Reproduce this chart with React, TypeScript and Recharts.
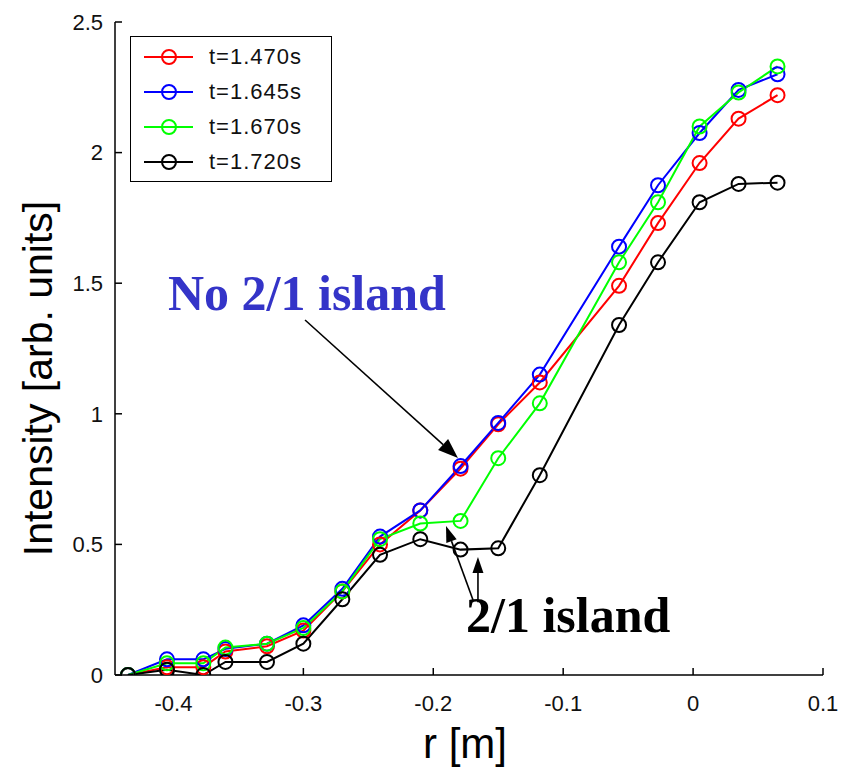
import React from 'react';
import {
  LineChart,
  Line,
  XAxis,
  YAxis,
  Legend,
  ReferenceLine,
  ReferenceDot,
} from 'recharts';

// radial positions of the chords [m]
const radius = [
  -0.435, -0.405, -0.377, -0.36, -0.328, -0.3, -0.27, -0.241, -0.21, -0.179,
  -0.15, -0.118, -0.057, -0.027, 0.005, 0.035, 0.065,
];

const t1470 = [0.0, 0.03, 0.03, 0.09, 0.11, 0.17, 0.32, 0.5, 0.63, 0.79, 0.96, 1.12, 1.49, 1.73, 1.96, 2.13, 2.22];
const t1645 = [0.0, 0.06, 0.06, 0.1, 0.12, 0.19, 0.33, 0.53, 0.63, 0.8, 0.965, 1.15, 1.64, 1.875, 2.075, 2.24, 2.3];
const t1670 = [0.0, 0.045, 0.045, 0.105, 0.12, 0.18, 0.32, 0.52, 0.58, 0.59, 0.83, 1.04, 1.58, 1.81, 2.1, 2.23, 2.33];
const t1720 = [0.0, 0.02, 0.0, 0.05, 0.05, 0.12, 0.29, 0.46, 0.52, 0.48, 0.485, 0.765, 1.34, 1.58, 1.81, 1.88, 1.885];

const seriesNames = ['t=1.470s', 't=1.645s', 't=1.670s', 't=1.720s'];
const seriesColors = ['#ff0000', '#0000ff', '#00ff00', '#000000'];

const xTicks = [-0.4, -0.3, -0.2, -0.1, 0, 0.1];
const yTicks = [0, 0.5, 1, 1.5, 2, 2.5];
const xDomain: [number, number] = [-0.445, 0.1];
const yDomain: [number, number] = [0, 2.5];

const data = radius.map((r, i) => ({
  r,
  s0: t1470[i],
  s1: t1645[i],
  s2: t1670[i],
  s3: t1720[i],
}));

const SANS = '"Liberation Sans", Arial, sans-serif';
const SERIF = '"Liberation Serif", "Times New Roman", serif';

const tickStyle = { fontSize: 22, fill: '#111', fontFamily: SANS };

function arrowShape(headLen: number, headWidth: number) {
  return (p: any) => {
    const { x1, y1, x2, y2 } = p;
    const dx = x2 - x1;
    const dy = y2 - y1;
    const len = Math.hypot(dx, dy) || 1;
    const ux = dx / len;
    const uy = dy / len;
    const bx = x2 - ux * headLen;
    const by = y2 - uy * headLen;
    const px = (-uy * headWidth) / 2;
    const py = (ux * headWidth) / 2;
    return (
      <g>
        <line x1={x1} y1={y1} x2={bx} y2={by} stroke="#000" strokeWidth={1.6} />
        <polygon
          points={`${x2},${y2} ${bx + px},${by + py} ${bx - px},${by - py}`}
          fill="#000"
        />
      </g>
    );
  };
}

function textShape(text: string, color: string) {
  return (p: any) => (
    <text
      x={p.cx}
      y={p.cy}
      fill={color}
      fontFamily={SERIF}
      fontWeight="bold"
      fontSize={50}
    >
      {text}
    </text>
  );
}

const renderLegend = (props: any) => (
  <div
    style={{
      border: '1px solid #000',
      background: '#fff',
      width: 200,
      padding: '2px 0',
    }}
  >
    {(props.payload || []).map((entry: any) => (
      <div
        key={entry.value}
        style={{ display: 'flex', alignItems: 'center', height: 35 }}
      >
        <svg width={64} height={20} style={{ display: 'block' }}>
          <line x1={13} x2={62} y1={10} y2={10} stroke={entry.color} strokeWidth={2} />
          <circle cx={38} cy={10} r={7} fill="none" stroke={entry.color} strokeWidth={2} />
        </svg>
        <span
          style={{
            fontFamily: SANS,
            fontSize: 22,
            letterSpacing: 1,
            marginLeft: 14,
            color: '#111',
            lineHeight: '20px',
          }}
        >
          {entry.value}
        </span>
      </div>
    ))}
  </div>
);

export default function App() {
  return (
    <div style={{ position: 'absolute', left: 0, top: 0 }}>
      <LineChart
        width={853}
        height={769}
        data={data}
        margin={{ top: 22, right: 30, bottom: 44, left: 55 }}
      >
        <XAxis
          dataKey="r"
          type="number"
          domain={xDomain}
          ticks={xTicks}
          allowDataOverflow
          height={50}
          tick={tickStyle}
          tickSize={-7}
          tickMargin={27}
          axisLine={{ stroke: '#000', strokeWidth: 1.5 }}
          tickLine={{ stroke: '#000', strokeWidth: 1.5 }}
          label={(props: any) => {
            const vb = props.viewBox || {};
            return (
              <text
                x={vb.x + vb.width / 2 - 4}
                y={vb.y + 83}
                textAnchor="middle"
                fontFamily={SANS}
                fontSize={42}
                fill="#000"
              >
                r [m]
              </text>
            );
          }}
        />
        <XAxis
          xAxisId="top"
          orientation="top"
          dataKey="r"
          type="number"
          domain={xDomain}
          ticks={xTicks}
          allowDataOverflow
          height={0}
          tickSize={-7}
          tickFormatter={() => ''}
          axisLine={{ stroke: '#000', strokeWidth: 1.5 }}
          tickLine={{ stroke: '#000', strokeWidth: 1.5 }}
        />
        <YAxis
          type="number"
          domain={yDomain}
          ticks={yTicks}
          allowDataOverflow
          width={60}
          tick={tickStyle}
          tickSize={-7}
          tickMargin={19}
          axisLine={{ stroke: '#000', strokeWidth: 1.5 }}
          tickLine={{ stroke: '#000', strokeWidth: 1.5 }}
          label={(props: any) => {
            const vb = props.viewBox || {};
            const cx = vb.x + vb.width - 77;
            const cy = vb.y + vb.height / 2 + 30;
            return (
              <text
                x={cx}
                y={cy}
                transform={`rotate(-90 ${cx} ${cy})`}
                textAnchor="middle"
                dominantBaseline="central"
                fontFamily={SANS}
                fontSize={41}
                fill="#000"
              >
                Intensity [arb. units]
              </text>
            );
          }}
        />
        <YAxis
          yAxisId="right"
          orientation="right"
          type="number"
          domain={yDomain}
          ticks={yTicks}
          allowDataOverflow
          width={0}
          tickSize={-7}
          tickFormatter={() => ''}
          axisLine={{ stroke: '#000', strokeWidth: 1.5 }}
          tickLine={{ stroke: '#000', strokeWidth: 1.5 }}
        />

        {['s0', 's1', 's2', 's3'].map((key, i) => (
          <Line
            key={key}
            dataKey={key}
            name={seriesNames[i]}
            type="linear"
            stroke={seriesColors[i]}
            strokeWidth={2}
            dot={{ r: 7, stroke: seriesColors[i], strokeWidth: 2, fill: 'none' }}
            activeDot={false}
            isAnimationActive={false}
          />
        ))}

        {/* annotation arrows */}
        <ReferenceLine
          segment={[
            { x: -0.2987, y: 1.359 },
            { x: -0.181, y: 0.831 },
          ]}
          shape={arrowShape(20, 15)}
        />
        <ReferenceLine
          segment={[
            { x: -0.1694, y: 0.287 },
            { x: -0.1902, y: 0.57 },
          ]}
          shape={arrowShape(16, 11)}
        />
        <ReferenceLine
          segment={[
            { x: -0.1656, y: 0.279 },
            { x: -0.1656, y: 0.452 },
          ]}
          shape={arrowShape(16, 11)}
        />

        {/* annotation texts */}
        <ReferenceDot
          x={-0.4042}
          y={1.397}
          r={0}
          shape={textShape('No 2/1 island', '#3434c8')}
        />
        <ReferenceDot
          x={-0.1748}
          y={0.1646}
          r={0}
          shape={textShape('2/1 island', '#000')}
        />

        <Legend
          layout="vertical"
          align="center"
          verticalAlign="middle"
          content={renderLegend}
          wrapperStyle={{ left: 130, top: 36, width: 'auto', height: 'auto' }}
        />
      </LineChart>
    </div>
  );
}
